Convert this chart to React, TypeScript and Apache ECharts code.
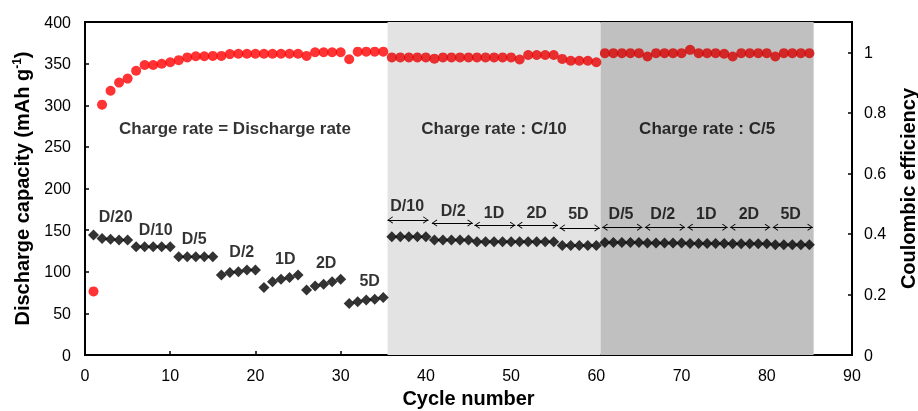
import React, { useEffect, useRef } from "react";
import * as echarts from "echarts";

const capacity = [
  144, 140, 139, 138, 138,
  130, 130, 130, 130, 130,
  118, 118, 118, 118, 118,
  96, 99, 100, 102, 102,
  81, 88, 91, 93, 96,
  78, 83, 85, 88, 91,
  62, 64, 66, 67, 69,
  142, 142, 142, 142, 142,
  138, 138, 138, 138, 138,
  136, 136, 136, 136, 136,
  136, 136, 136, 136, 136,
  131.5, 131.5, 131.5, 131.5, 131.5,
  135, 135, 135, 135, 135,
  134.5, 134.5, 134.5, 134.5, 134.5,
  134, 134, 134, 134, 134,
  133.5, 133.5, 133.5, 133.5, 133.5,
  132.5, 132.5, 132.5, 132.5, 132.5,
];

const efficiency = [
  0.21, 0.827, 0.873, 0.9, 0.913,
  0.939, 0.958, 0.958, 0.962, 0.967,
  0.974, 0.983, 0.987, 0.987, 0.988,
  0.988, 0.994, 0.995, 0.995, 0.995,
  0.995, 0.995, 0.995, 0.995, 0.995,
  0.988, 1.0, 1.0, 1.0, 1.0,
  0.977, 1.002, 1.002, 1.002, 1.002,
  0.983, 0.983, 0.983, 0.983, 0.983,
  0.979, 0.983, 0.983, 0.983, 0.983,
  0.983, 0.983, 0.983, 0.983, 0.983,
  0.976, 0.991, 0.991, 0.991, 0.991,
  0.978, 0.972, 0.972, 0.972, 0.967,
  0.997, 0.997, 0.997, 0.997, 0.997,
  0.986, 0.997, 0.997, 0.997, 0.997,
  1.008, 0.997, 0.997, 0.997, 0.995,
  0.986, 0.997, 0.997, 0.997, 0.997,
  0.986, 0.997, 0.997, 0.997, 0.997,
];

// rate labels: [text, cycle position, capacity position]
const rateLabels: [string, number, number][] = [
  ["D/20", 3.6, 166],
  ["D/10", 8.3, 151],
  ["D/5", 12.8, 140],
  ["D/2", 18.4, 124],
  ["1D", 23.5, 116],
  ["2D", 28.3, 111],
  ["5D", 33.4, 89],
  ["D/10", 37.8, 179.5],
  ["D/2", 43.2, 174],
  ["1D", 48.0, 171],
  ["2D", 53.0, 171.5],
  ["5D", 57.9, 169.5],
  ["D/5", 62.9, 170.5],
  ["D/2", 67.8, 170.5],
  ["1D", 72.9, 170.5],
  ["2D", 77.9, 170.5],
  ["5D", 82.8, 170.5],
];

// arrows: [start cycle, end cycle, capacity level]
const arrowSpans: [number, number, number][] = [
  [35.5, 40.3, 162.3],
  [40.7, 45.5, 158.6],
  [45.7, 50.5, 155.8],
  [50.7, 55.5, 155.8],
  [55.7, 60.4, 152.7],
  [60.7, 65.4, 153.4],
  [65.7, 70.4, 153.4],
  [70.7, 75.4, 153.4],
  [75.7, 80.4, 153.4],
  [80.7, 85.4, 153.4],
];

const regionLabels: [string, number, number][] = [
  ["Charge rate = Discharge rate", 17.6, 272],
  ["Charge rate : C/10", 48, 272],
  ["Charge rate : C/5", 73, 272],
];

const bands: [number, number, string][] = [
  [35.5, 60.5, "#e3e3e3"],
  [60.5, 85.5, "#c0c0c0"],
];

const FONT = "Liberation Sans, Arial, sans-serif";

function dotColor(cycle: number) {
  if (cycle > 60.5) return "#d60000";
  if (cycle > 35.5) return "#e80000";
  return "#ff0000";
}

export default function App() {
  const ref = useRef<HTMLDivElement>(null);
  useEffect(() => {
    document.body.style.margin = "0";
    const chart = echarts.init(ref.current!, null, { renderer: "svg" });
    // open chevron whose tip sits at the centre of its bounding box
    const chevron =
      "path://M5,8 L10,15.2 L9,16 L5,10 L1,16 L0,15.2 Z M5,0 L5.01,0 L5,0.01 Z";
    chart.setOption({
      animation: false,
      textStyle: { fontFamily: FONT },
      grid: {
        left: 85,
        right: 66,
        top: 22,
        bottom: 56,
        outerBoundsMode: "none",
        containLabel: false,
        show: true,
        borderColor: "#000",
        borderWidth: 2,
        backgroundColor: "transparent",
      },
      xAxis: {
        type: "value",
        min: 0,
        max: 90,
        interval: 10,
        name: "Cycle number",
        nameLocation: "middle",
        nameGap: 33,
        nameTextStyle: { fontSize: 20, fontWeight: "bold", color: "#000", fontFamily: FONT },
        axisLine: { onZero: false, lineStyle: { color: "#000", width: 2 } },
        axisTick: { inside: true, length: 4, lineStyle: { color: "#000", width: 1.5 } },
        axisLabel: { color: "#000", fontSize: 16, margin: 12, fontFamily: FONT },
        splitLine: { show: false },
      },
      yAxis: [
        {
          type: "value",
          min: 0,
          max: 400,
          interval: 50,
          name: "Discharge capacity (mAh g{sup|-1})",
          nameLocation: "middle",
          nameRotate: 90,
          nameGap: 52,
          nameTextStyle: {
            fontSize: 20,
            fontWeight: "bold",
            color: "#000",
            fontFamily: FONT,
            rich: {
              sup: { fontSize: 12, fontWeight: "bold", color: "#000", fontFamily: FONT, padding: [0, 0, 10, 0] },
            },
          },
          axisLine: { show: true, lineStyle: { color: "#000", width: 2 } },
          axisTick: { show: true, inside: true, length: 4, lineStyle: { color: "#000", width: 1.5 } },
          axisLabel: { color: "#000", fontSize: 16, margin: 14, fontFamily: FONT },
          splitLine: { show: false },
        },
        {
          type: "value",
          min: 0,
          max: 1.1,
          interval: 0.2,
          position: "right",
          name: "Coulombic efficiency",
          nameLocation: "middle",
          nameRotate: 90,
          nameGap: 46,
          nameTextStyle: { fontSize: 20, fontWeight: "bold", color: "#000", fontFamily: FONT },
          axisLine: { show: true, lineStyle: { color: "#000", width: 2 } },
          axisTick: { show: true, inside: true, length: 4, lineStyle: { color: "#000", width: 1.5 } },
          axisLabel: { color: "#000", fontSize: 16, margin: 12, showMaxLabel: false, fontFamily: FONT },
          splitLine: { show: false },
        },
      ],
      series: [
        {
          type: "scatter",
          name: "bands",
          silent: true,
          data: [],
          markArea: {
            silent: true,
            data: bands.map(([a, b, c]) => [
              { xAxis: a, itemStyle: { color: c } },
              { xAxis: b },
            ]),
          },
        },
        {
          type: "scatter",
          name: "Discharge capacity",
          yAxisIndex: 0,
          symbol: "diamond",
          symbolSize: 11,
          itemStyle: { color: "#000" },
          data: capacity.map((v, i) => [i + 1, v]),
          z: 3,
        },
        {
          type: "scatter",
          name: "Coulombic efficiency",
          yAxisIndex: 1,
          symbol: "circle",
          symbolSize: 10,
          data: efficiency.map((v, i) => ({
            value: [i + 1, v],
            itemStyle: { color: dotColor(i + 1) },
          })),
          z: 3,
        },
        {
          type: "scatter",
          name: "rate labels",
          silent: true,
          symbolSize: 0,
          data: rateLabels.map(([t, x, y]) => ({ name: t, value: [x, y] })),
          label: {
            show: true,
            position: "inside",
            formatter: "{b}",
            color: "#000",
            fontSize: 16,
            fontWeight: "bold",
            fontFamily: FONT,
          },
          markLine: {
            silent: true,
            symbol: [chevron, chevron],
            symbolSize: [7, 11],
            label: { show: false },
            lineStyle: { color: "#000", width: 1, type: "solid" },
            emphasis: { disabled: true },
            data: arrowSpans.map(([a, b, y]) => [{ coord: [a, y] }, { coord: [b, y] }]),
          },
          z: 4,
        },
        {
          type: "scatter",
          name: "region labels",
          silent: true,
          symbolSize: 0,
          data: regionLabels.map(([t, x, y]) => ({ name: t, value: [x, y] })),
          label: {
            show: true,
            position: "inside",
            formatter: "{b}",
            color: "#000",
            fontSize: 17,
            fontWeight: "bold",
            fontFamily: FONT,
          },
          z: 4,
        },
      ],
    });
    return () => chart.dispose();
  }, []);
  return (
    <div
      ref={ref}
      style={{ position: "fixed", left: 0, top: 0, width: 918, height: 411 }}
    />
  );
}
